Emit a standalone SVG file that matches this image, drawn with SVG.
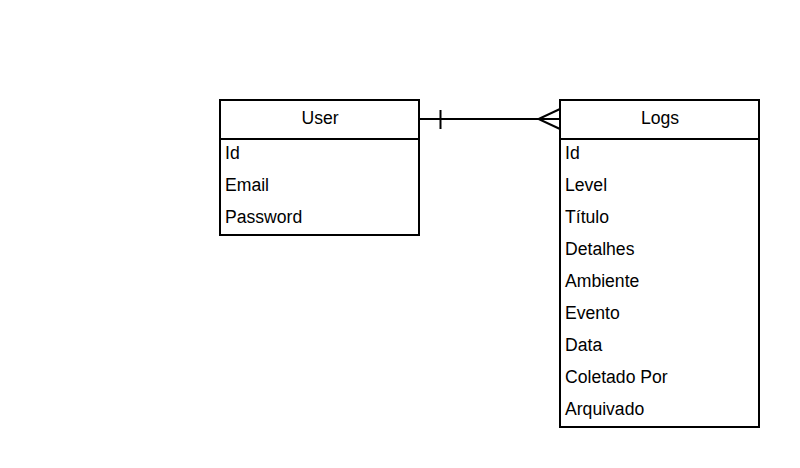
<svg xmlns="http://www.w3.org/2000/svg" width="800" height="468" viewBox="0 0 800 468">
<style>
.box{fill:#fff;stroke:#000;stroke-width:2}
.sep{stroke:#000;stroke-width:2}
.title{font-family:"Liberation Sans",Arial,sans-serif;font-size:17.6px;fill:#000;text-anchor:middle}
.item{font-family:"Liberation Sans",Arial,sans-serif;font-size:17.6px;fill:#000}
.conn{fill:none;stroke:#000;stroke-width:2}
</style>
<rect width="800" height="468" fill="#fff"/>
<g id="connectors">
<path class="conn" d="M419 119 H560"/>
<path class="conn" d="M440.5 110 V129"/>
<path class="conn" d="M560 109 L538.5 119 L560 129"/>
</g>
<g id="user">
<rect class="box" x="220" y="100" width="199" height="135"/>
<line class="sep" x1="220" y1="139" x2="419" y2="139"/>
<text class="title" x="320" y="123.5">User</text>
<text class="item" x="225" y="159">Id</text>
<text class="item" x="225" y="191">Email</text>
<text class="item" x="225" y="223">Password</text>
</g>
<g id="logs">
<rect class="box" x="560" y="100" width="199" height="327"/>
<line class="sep" x1="560" y1="139" x2="759" y2="139"/>
<text class="title" x="660" y="123.5">Logs</text>
<text class="item" x="565" y="159">Id</text>
<text class="item" x="565" y="191">Level</text>
<text class="item" x="565" y="223">Título</text>
<text class="item" x="565" y="255">Detalhes</text>
<text class="item" x="565" y="287">Ambiente</text>
<text class="item" x="565" y="319">Evento</text>
<text class="item" x="565" y="351">Data</text>
<text class="item" x="565" y="383">Coletado Por</text>
<text class="item" x="565" y="415">Arquivado</text>
</g>
</svg>
